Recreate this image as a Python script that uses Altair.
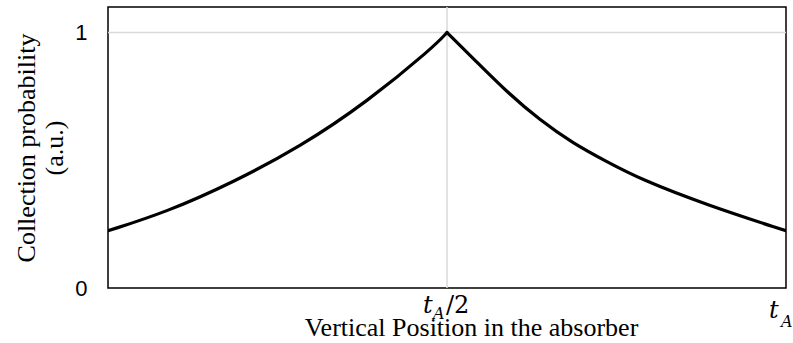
import altair as alt
import pandas as pd

# Collection probability across the absorber, peaking at mid-depth
left_x = [0.0, 0.087, 0.184, 0.283, 0.382, 0.48, 0.5]
left_y = [0.224, 0.298, 0.413, 0.552, 0.728, 0.943, 1.0]
right_x = [0.5, 0.539, 0.588, 0.637, 0.686, 0.736, 0.785, 0.883, 1.0]
right_y = [1.0, 0.898, 0.768, 0.657, 0.566, 0.494, 0.426, 0.325, 0.224]

y_ticks = [0, 1]
grid_x = [0.5]
grid_y = [1.0]

curve = pd.DataFrame(
    {
        "pos": left_x + right_x,
        "prob": left_y + right_y,
        "side": ["front"] * len(left_x) + ["back"] * len(right_x),
    }
)

x_scale = alt.Scale(domain=[0, 1], nice=False, zero=False)
y_scale = alt.Scale(domain=[0, 1.1], nice=False)

x_enc = alt.X(
    "pos:Q",
    scale=x_scale,
    axis=alt.Axis(
        labels=False,
        ticks=False,
        domain=False,
        grid=False,
        title="Vertical Position in the absorber",
        titleFont="Liberation Serif",
        titleFontSize=26,
        titleFontWeight="normal",
        titleColor="black",
        titleAlign="center",
        titleBaseline="alphabetic",
        titleX=363,
        titleY=47,
    ),
)
y_enc = alt.Y(
    "prob:Q",
    scale=y_scale,
    axis=alt.Axis(
        values=y_ticks,
        format="d",
        ticks=False,
        domain=False,
        grid=False,
        labelFont="Liberation Sans",
        labelFontSize=22,
        labelColor="black",
        labelPadding=21,
        title=["Collection probability", "(a.u.)"],
        titleFont="Liberation Serif",
        titleFontSize=26,
        titleFontWeight="normal",
        titleColor="black",
        titleAngle=270,
        titleAlign="center",
        titleBaseline="alphabetic",
        titleLineHeight=28,
        titleX=-74,
        titleY=140.5,
    ),
)

hgrid = (
    alt.Chart(pd.DataFrame({"g": grid_y}))
    .mark_rule(color="#d9d9d9", strokeWidth=1.5)
    .encode(y=alt.Y("g:Q", scale=y_scale))
)
vgrid = (
    alt.Chart(pd.DataFrame({"g": grid_x}))
    .mark_rule(color="#d9d9d9", strokeWidth=1.5)
    .encode(x=alt.X("g:Q", scale=x_scale))
)

line = (
    alt.Chart(curve)
    .mark_line(
        color="black",
        strokeWidth=3.2,
        interpolate="basis",
        strokeCap="round",
        strokeJoin="miter",
        clip=True,
    )
    .encode(x=x_enc, y=y_enc, detail="side:N")
)


def tick_piece(pos, text, dx, dy, size, italic, font):
    return (
        alt.Chart(pd.DataFrame({"p": [pos], "t": [text]}))
        .mark_text(
            align="left",
            baseline="alphabetic",
            dx=dx,
            dy=dy,
            fontSize=size,
            font=font,
            fontStyle="italic" if italic else "normal",
            color="black",
        )
        .encode(
            x=alt.X("p:Q", scale=x_scale),
            y=alt.datum(0, scale=y_scale),
            text="t:N",
        )
    )


# x tick labels t_A/2 and t_A, with subscripted A
tick_pos = [0.5, 1.0]
labels = [
    tick_piece(tick_pos[0], "t", -24, 25, 24, True, "DejaVu Serif"),
    tick_piece(tick_pos[0], "A", -14, 31, 16, True, "DejaVu Serif"),
    tick_piece(tick_pos[0], "/2", -1, 25, 24, False, "DejaVu Serif"),
    tick_piece(tick_pos[1], "t", -17, 30, 24, True, "DejaVu Serif"),
    tick_piece(tick_pos[1], "A", -5, 39, 16, True, "DejaVu Serif"),
]

chart = (
    alt.layer(hgrid, vgrid, line, *labels)
    .properties(
        width=678,
        height=281,
        autosize=alt.AutoSizeParams(type="none"),
        padding={"left": 108, "top": 7, "right": 7, "bottom": 55},
        background="white",
    )
    .configure_view(stroke="black", strokeWidth=1.5)
)

chart.save("out.html", embed_options={"renderer": "svg", "actions": False})
